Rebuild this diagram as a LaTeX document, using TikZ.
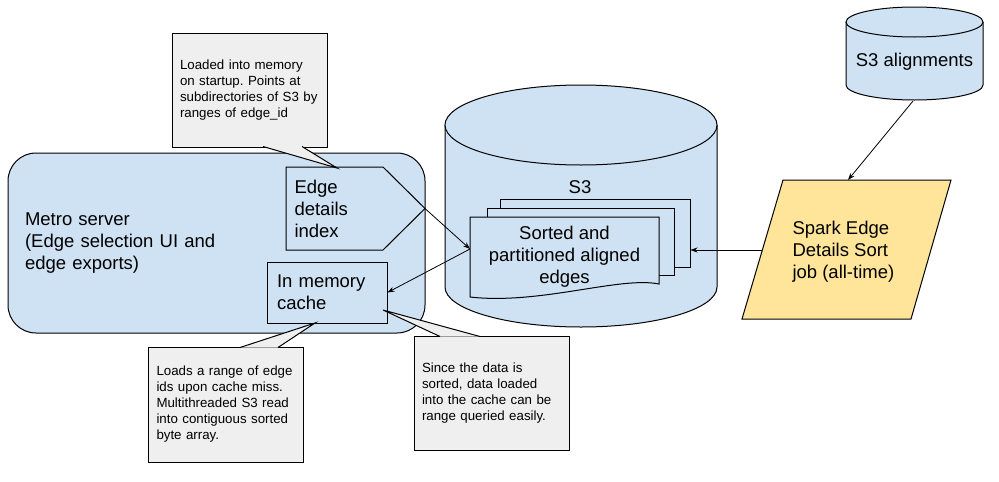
\documentclass[tikz,border=0pt]{standalone}
\usepackage{fontspec}
\setmainfont{Liberation Sans}
\usetikzlibrary{arrows.meta}
\frenchspacing

\definecolor{boxblue}{HTML}{CFE2F3}
\definecolor{jobyellow}{HTML}{FFE599}
\definecolor{notegray}{HTML}{EFEFEF}

\tikzset{every picture/.style={line width=1pt},
	bigtext/.style={font=\fontsize{18.5}{22}\selectfont},
	smalltext/.style={font=\fontsize{13.3}{16}\selectfont},
	note/.style={draw, fill=notegray, smalltext, align=left, text width=139pt, inner xsep=8pt, minimum width=155pt, minimum height=114pt},
	notetip/.style={draw, fill=notegray},
	flow/.style={-{Stealth[length=7pt,width=5pt]}, line width=0.8pt}}

\begin{document}
\begin{tikzpicture}[x=1pt,y=1pt,yscale=-1,xscale=1]
	\useasboundingbox (0,0) rectangle (999,482);
	
	%Rounded Rect: Metro server
	\node [draw, fill=boxblue, rounded corners=28pt, minimum width=417pt, minimum height=180pt, text width=383pt, inner xsep=17pt, align=left, bigtext] (metro) at (216.5,243) {Metro server\\(Edge selection UI and\\edge exports)};
	%Shape: Pentagon
	\draw [fill=boxblue] (286,167) -- (383,167) -- (425,208.5) -- (383,250) -- (286,250) -- cycle ;
	\coordinate (index-tip) at (425,208.5);
	% Text Node
	\node [bigtext, align=left, anchor=west, inner sep=0pt] (index) at (294,209) {Edge\\details\\index};
	%Shape: Rectangle
	\node [draw, fill=boxblue, minimum width=120pt, minimum height=61pt, text width=100pt, inner xsep=10pt, align=left, bigtext] (cache) at (327,292.5) {In memory\\cache};
	
	%Shape: Can
	\draw [fill=boxblue] (445,125) -- (445,287) arc [start angle=180, end angle=0, x radius=136, y radius=40] -- (717,125) ;
	\draw [fill=boxblue] (581,125) ellipse [x radius=136, y radius=40] ;
	% Text Node
	\node [bigtext] (s3) at (580,187) {S3};
	
	%Shape: Documents
	\node [draw, fill=boxblue, minimum width=190pt, minimum height=68pt, inner sep=0pt] (stack3) at (595,233) {};
	\node [draw, fill=boxblue, minimum width=187pt, minimum height=67pt, inner sep=0pt] (stack2) at (580.5,241.5) {};
	\draw [fill=boxblue] (470,217) -- (659,217) -- (659,284) .. controls (620,276) and (540,305) .. (470,297) -- cycle ;
	% Text Node
	\node [bigtext, align=center, inner sep=0pt] (sorted) at (564.5,257) {Sorted and\\partitioned aligned\\edges};
	\coordinate (sorted-in) at (470,249);
	
	%Shape: Can
	\draw [fill=boxblue] (846,22) -- (846,85) arc [start angle=180, end angle=0, x radius=68.5, y radius=15] -- (983,22) ;
	\draw [fill=boxblue] (914.5,22) ellipse [x radius=68.5, y radius=15] ;
	% Text Node
	\node [bigtext] (s3align) at (914.5,62) {S3 alignments};
	\coordinate (s3align-out) at (913,101);
	
	%Shape: Parallelogram
	\draw [fill=jobyellow] (783,180) -- (951,180) -- (911,319) -- (742,319) -- cycle ;
	% Text Node
	\node [bigtext, align=left, anchor=west, inner sep=0pt] (spark) at (792,252) {Spark Edge\\Details Sort\\job (all-time)};
	\coordinate (spark-in) at (848,180);
	\coordinate (spark-out) at (762,250);
	
	%Straight Lines
	\draw [flow] (index-tip) -- (sorted-in) ;
	\draw [flow] (sorted-in) -- (cache.east) ;
	\draw [flow] (spark-out) -- (stack3.east |- spark-out) ;
	\draw [flow] (s3align-out) -- (spark-in) ;
	
	%Callouts
	\node [note] (note1) at (249.5,90) {Loaded into memory\\on startup. Points at\\subdirectories of S3 by\\ranges of edge\_id};
	\draw [notetip] (263,146.5) -- (337,168) -- (302,146.5) ;
	\node [note, minimum height=115pt] (note2) at (226,404.5) {Loads a range of edge\\ids upon cache miss.\\Multithreaded S3 read\\into contiguous sorted\\byte array.};
	\draw [notetip] (240,347.5) -- (315,323) -- (278,347.5) ;
	\node [note] (note3) at (491.5,393) {Since the data is\\sorted, data loaded\\into the cache can be\\range queried easily.};
	\draw [notetip] (440,336.5) -- (383,310) -- (480,336.5) ;
	
\end{tikzpicture}
\end{document}
